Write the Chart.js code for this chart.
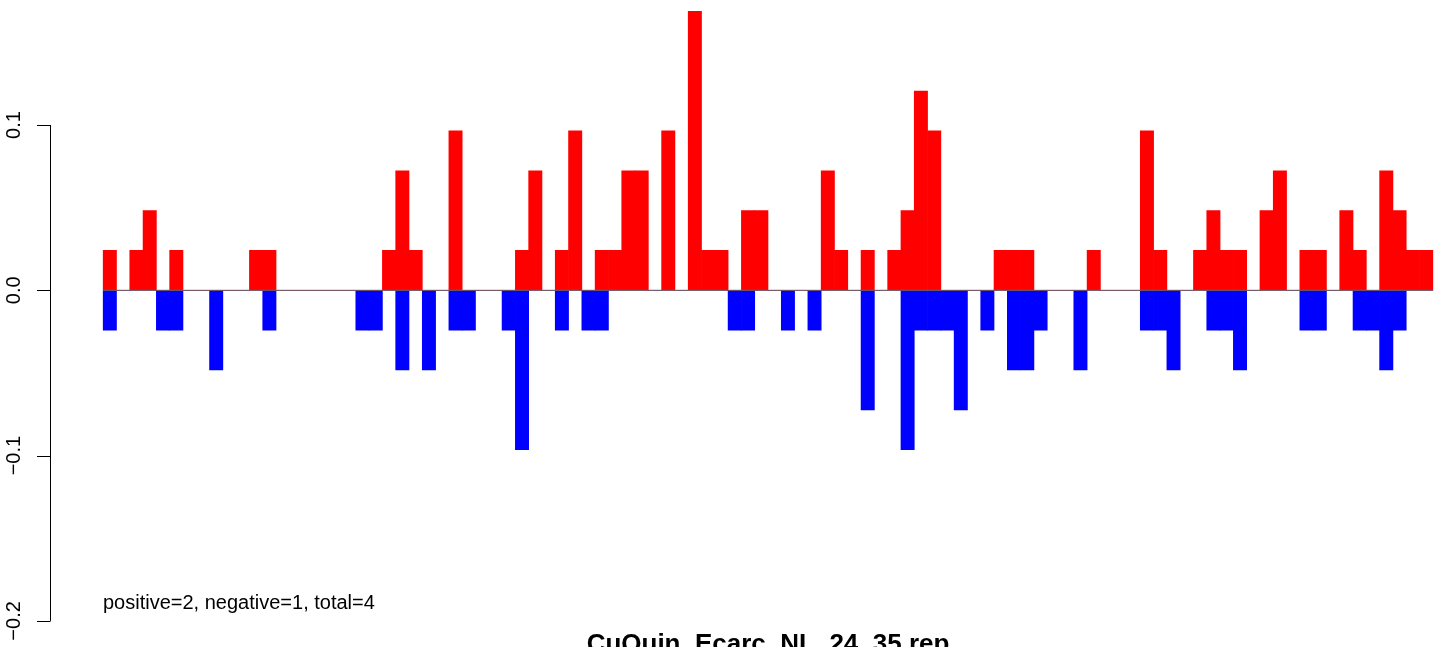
<!DOCTYPE html>
<html>
<head>
<meta charset="utf-8">
<script src="https://cdn.jsdelivr.net/npm/chart.js@4"></script>
<style>
  html, body { margin: 0; padding: 0; background: #fff; overflow: hidden; }
  #chart { display: block; }
</style>
</head>
<body>
<canvas id="chart" width="1486" height="647"></canvas>
<script>
// one value per bin, 100 bins
const positive = [
  0.0241, 0, 0.0241, 0.0482, 0, 0.0241, 0, 0, 0, 0,
  0, 0.0241, 0.0241, 0, 0, 0, 0, 0, 0, 0,
  0, 0.0241, 0.0723, 0.0241, 0, 0, 0.0964, 0, 0, 0,
  0, 0.0241, 0.0723, 0, 0.0241, 0.0964, 0, 0.0241, 0.0241, 0.0723,
  0.0723, 0, 0.0964, 0, 0.1687, 0.0241, 0.0241, 0, 0.0482, 0.0482,
  0, 0, 0, 0, 0.0723, 0.0241, 0, 0.0241, 0, 0.0241,
  0.0482, 0.1205, 0.0964, 0, 0, 0, 0, 0.0241, 0.0241, 0.0241,
  0, 0, 0, 0, 0.0241, 0, 0, 0, 0.0964, 0.0241,
  0, 0, 0.0241, 0.0482, 0.0241, 0.0241, 0, 0.0482, 0.0723, 0,
  0.0241, 0.0241, 0, 0.0482, 0.0241, 0, 0.0723, 0.0482, 0.0241, 0.0241,
];
const negative = [
  -0.0241, 0, 0, 0, -0.0241, -0.0241, 0, 0, -0.0482, 0,
  0, 0, -0.0241, 0, 0, 0, 0, 0, 0, -0.0241,
  -0.0241, 0, -0.0482, 0, -0.0482, 0, -0.0241, -0.0241, 0, 0,
  -0.0241, -0.0964, 0, 0, -0.0241, 0, -0.0241, -0.0241, 0, 0,
  0, 0, 0, 0, 0, 0, 0, -0.0241, -0.0241, 0,
  0, -0.0241, 0, -0.0241, 0, 0, 0, -0.0723, 0, 0,
  -0.0964, -0.0241, -0.0241, -0.0241, -0.0723, 0, -0.0241, 0, -0.0482, -0.0482,
  -0.0241, 0, 0, -0.0482, 0, 0, 0, 0, -0.0241, -0.0241,
  -0.0482, 0, 0, -0.0241, -0.0241, -0.0482, 0, 0, 0, 0,
  -0.0241, -0.0241, 0, 0, -0.0241, -0.0241, -0.0482, -0.0241, 0, 0,
];
const yTicks = [-0.2, -0.1, 0, 0.1];
const yTickLabels = ['\u22120.2', '\u22120.1', '0.0', '0.1'];
const mainTitle = 'CuQuin_Ecarc_NL_24_35 rep';
const note = 'positive=2, negative=1, total=4';

const FONT = '"Liberation Sans", Arial, sans-serif';

const toPoints = (arr) => arr.map((v, i) => ({ x: i + 0.5, y: v }));

// R style left axis + the two text lines
const rAxis = {
  id: 'rAxis',
  afterDraw(chart) {
    const { ctx, scales: { y }, chartArea } = chart;
    const ax = 50.5;
    ctx.save();
    ctx.strokeStyle = '#000';
    ctx.lineWidth = 1;
    ctx.beginPath();
    ctx.moveTo(ax, y.getPixelForValue(yTicks[0]));
    ctx.lineTo(ax, y.getPixelForValue(yTicks[yTicks.length - 1]));
    for (const t of yTicks) {
      const py = Math.round(y.getPixelForValue(t)) + 0.5;
      ctx.moveTo(37, py);
      ctx.lineTo(ax, py);
    }
    ctx.stroke();

    ctx.fillStyle = '#000';
    ctx.font = `20px ${FONT}`;
    ctx.textAlign = 'center';
    ctx.textBaseline = 'alphabetic';
    yTicks.forEach((t, i) => {
      ctx.save();
      ctx.translate(20, y.getPixelForValue(t));
      ctx.rotate(-Math.PI / 2);
      ctx.fillText(yTickLabels[i], 0, 0);
      ctx.restore();
    });

    ctx.textAlign = 'left';
    ctx.fillText(note, 103, 609);

    ctx.font = `bold 26px ${FONT}`;
    ctx.textAlign = 'center';
    ctx.fillText(mainTitle, (chartArea.left + chartArea.right) / 2, 652);
    ctx.restore();
  },
};

new Chart(document.getElementById('chart'), {
  type: 'bar',
  data: {
    datasets: [
      {
        type: 'line',
        data: [{ x: 0, y: 0 }, { x: positive.length, y: 0 }],
        borderColor: '#666666',
        borderWidth: 1,
        pointRadius: 0,
        order: 0,
      },
      {
        data: toPoints(positive),
        backgroundColor: '#ff0000',
        borderWidth: 0,
        grouped: false,
        barPercentage: 1,
        categoryPercentage: 1,
        order: 1,
      },
      {
        data: toPoints(negative),
        backgroundColor: '#0000ff',
        borderWidth: 0,
        grouped: false,
        barPercentage: 1,
        categoryPercentage: 1,
        order: 1,
      },
    ],
  },
  options: {
    responsive: false,
    animation: false,
    devicePixelRatio: 1,
    layout: { padding: { left: 50, right: 0, top: 1, bottom: 1.3 } },
    plugins: { legend: { display: false }, tooltip: { enabled: false } },
    scales: {
      x: { type: 'linear', min: -4, max: 104, offset: false, display: false },
      y: { min: -0.215, max: 0.175, display: false },
    },
  },
  plugins: [rAxis],
});
</script>
</body>
</html>
